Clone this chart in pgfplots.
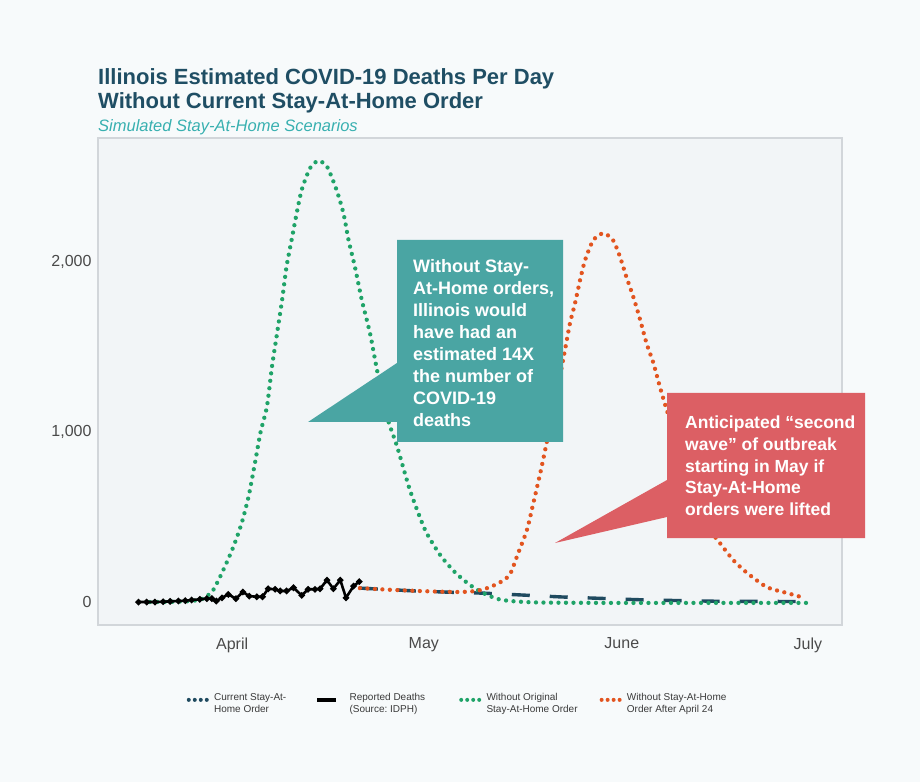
\documentclass[border=0pt]{standalone}
\usepackage{pgfplots}
\pgfplotsset{compat=1.18}
\usepackage{fontspec}
\setmainfont{Liberation Sans}
\frenchspacing
\definecolor{bgout}{HTML}{F7FAFB}
\definecolor{bgpanel}{HTML}{F2F5F7}
\definecolor{panelborder}{HTML}{D2D6DA}
\definecolor{titlecol}{HTML}{1F4E64}
\definecolor{subcol}{HTML}{38B0B0}
\definecolor{greencol}{HTML}{1FA368}
\definecolor{orangecol}{HTML}{E2541F}
\definecolor{dashcol}{HTML}{1F4A5F}
\definecolor{tealbox}{HTML}{4AA5A3}
\definecolor{redbox}{HTML}{DC5F64}
\definecolor{tickcol}{HTML}{4A4A4A}
\definecolor{legcol}{HTML}{3A3A3A}
\begin{document}
\begin{tikzpicture}
\fill[bgout] (0pt,0pt) rectangle (920pt,782pt);
\node[anchor=base west, font=\fontsize{22}{24}\selectfont\bfseries, text=titlecol, inner sep=0] at (98pt,697pt) {Illinois Estimated COVID-19 Deaths Per Day};
\node[anchor=base west, font=\fontsize{22}{24}\selectfont\bfseries, text=titlecol, inner sep=0] at (98pt,673pt) {Without Current Stay-At-Home Order};
\node[anchor=base west, font=\fontsize{16.5}{18}\selectfont\itshape, text=subcol, inner sep=0] at (98pt,650pt) {Simulated Stay-At-Home Scenarios};
\begin{axis}[
  at={(98pt,157pt)}, anchor=south west, scale only axis, width=744pt, height=487pt,
  xmin=9.8, xmax=127.4, ymin=-135, ymax=2729,
  axis background/.style={fill=bgpanel},
  axis line style={draw=panelborder, line width=1.3pt},
  xtick={31,61.3,92.6,122}, xticklabels={April,May,June,July},
  ytick={0,1000,2000}, yticklabels={0,{1,000},{2,000}},
  major tick length=0pt,
  tick label style={font=\fontsize{16}{18}\selectfont, text=tickcol},
  xticklabel style={yshift=-9pt},
  yticklabel style={xshift=-3pt},
  /pgf/number format/assume math mode=true,
  legend image code/.code={\draw[#1] (0pt,3.5pt) -- (18.3pt,3.5pt);},
  legend style={at={(0.115,-0.131)}, anchor=north west, draw=none, fill=none,
    font=\fontsize{10}{12}\selectfont, text=legcol, legend columns=4,
    /tikz/column 1/.style={column sep=3pt},
    /tikz/column 2/.style={column sep=27pt},
    /tikz/column 3/.style={column sep=10pt},
    /tikz/column 4/.style={column sep=32pt},
    /tikz/column 5/.style={column sep=3pt},
    /tikz/column 6/.style={column sep=20pt},
    /tikz/column 7/.style={column sep=3pt},
    nodes={align=left, inner sep=2pt}},
  legend cell align=left,
]
\addlegendimage{dashcol, line width=4pt, line cap=round, dash pattern=on 0pt off 6pt}
\addlegendentry{Current Stay-At-\\Home Order}
\addlegendimage{black, line width=4pt}
\addlegendentry{Reported Deaths\\(Source: IDPH)}
\addlegendimage{greencol, line width=4pt, line cap=round, dash pattern=on 0pt off 6pt}
\addlegendentry{Without Original\\Stay-At-Home Order}
\addlegendimage{orangecol, line width=4pt, line cap=round, dash pattern=on 0pt off 6pt}
\addlegendentry{Without Stay-At-Home\\Order After April 24}

% Current Stay-At-Home Order (dashed)
\addplot[dashcol, line width=3.4pt, dash pattern=on 18pt off 20pt, forget plot] coordinates {
(51.2,82) (60,65) (66,57) (71,52) (77,41) (83,30) (89,22) (95,14) (101,9) (107,5) (113,4) (122,3)
};
% Without original stay-at-home order
\addplot[greencol, line width=4.3pt, line cap=round, dash pattern=on 0pt off 7.5pt, smooth, tension=0.4, forget plot] coordinates {
(18,0) (22,2) (25,8) (26.5,22) (28,70) (29.6,188) (31.2,325) (32.5,463) (33.6,620) (34.6,816)
(35.5,1000) (36.5,1149) (37.3,1384) (38.1,1580) (38.9,1776) (39.6,1973) (40.4,2129) (41.2,2286)
(42,2424) (43.3,2551) (44.6,2595) (46,2561) (47.5,2424) (48.6,2286) (49.4,2129) (50.4,1973)
(51.5,1776) (52.8,1580) (53.9,1365) (55.5,1088) (57.1,912) (59.1,659) (61.5,424) (63.9,276)
(66.2,176) (68.6,100) (71,47) (73.3,15) (76,3) (80,-3) (90,-5) (100,-5) (110,-5) (122,-5)
};
% Without stay-at-home order after April 24
\addplot[orangecol, line width=4.3pt, line cap=round, dash pattern=on 0pt off 7.5pt, smooth, tension=0.4, forget plot] coordinates {
(51.2,82) (56,72) (62,63) (67,59) (69.5,65) (71,78) (72.5,100) (74,130) (75,169) (76.2,286)
(77.6,424) (78.6,580) (79.7,757) (80.4,880) (82,1170) (83.6,1480) (84.4,1639) (85.2,1757)
(86,1894) (86.8,2012) (88.1,2129) (89.7,2169) (91.2,2129) (92.3,2031) (93.3,1914) (94.4,1796)
(95.5,1659) (96.5,1522) (97.6,1404) (98.6,1267) (99.7,1129) (101,980) (102.5,810) (104,640)
(105.5,500) (107,400) (108.1,347) (110.2,247) (112.4,171) (115.5,88) (118.7,53) (121.5,24)
};
% Reported deaths
\addplot[black, line width=2.6pt, mark=*, mark size=1.7pt, mark options={solid}, forget plot] coordinates {
(16.2,0) (17.5,0) (18.8,0) (20.1,2) (21.2,4) (22.5,6) (23.6,8) (24.6,12) (25.9,16) (27,20)
(27.8,20) (28.5,6) (29.4,25) (30.4,45) (31.6,20) (32.7,59) (33.7,35) (34.9,31) (35.8,31)
(36.7,78) (37.8,75) (38.6,65) (39.6,65) (40.7,84) (42,39) (43,75) (44.1,75) (44.9,78)
(46,129) (47,78) (48.1,129) (49,25) (50.2,94) (51.1,120)
};
\end{axis}
% callout boxes
\fill[tealbox] (397pt,542pt) -- (563pt,542pt) -- (563pt,340pt) -- (397pt,340pt) -- (397pt,360pt) -- (308pt,360pt) -- (397pt,419pt) -- cycle;
\node[anchor=north west, inner sep=0, align=left, text=white, font=\fontsize{18}{21.9}\selectfont\bfseries] at (413pt,522.5pt)
{Without Stay-\\At-Home orders,\\Illinois would\\have had an\\estimated 14X\\the number of\\COVID-19\\deaths};
\fill[redbox] (667pt,389pt) -- (865pt,389pt) -- (865pt,244pt) -- (667pt,244pt) -- (667pt,265pt) -- (555pt,239pt) -- (667pt,302pt) -- cycle;
\node[anchor=north west, inner sep=0, align=left, text=white, font=\fontsize{17.5}{21.7}\selectfont\bfseries] at (685pt,366pt)
{Anticipated “second\\wave” of outbreak\\starting in May if\\Stay-At-Home\\orders were lifted};
\end{tikzpicture}
\end{document}
